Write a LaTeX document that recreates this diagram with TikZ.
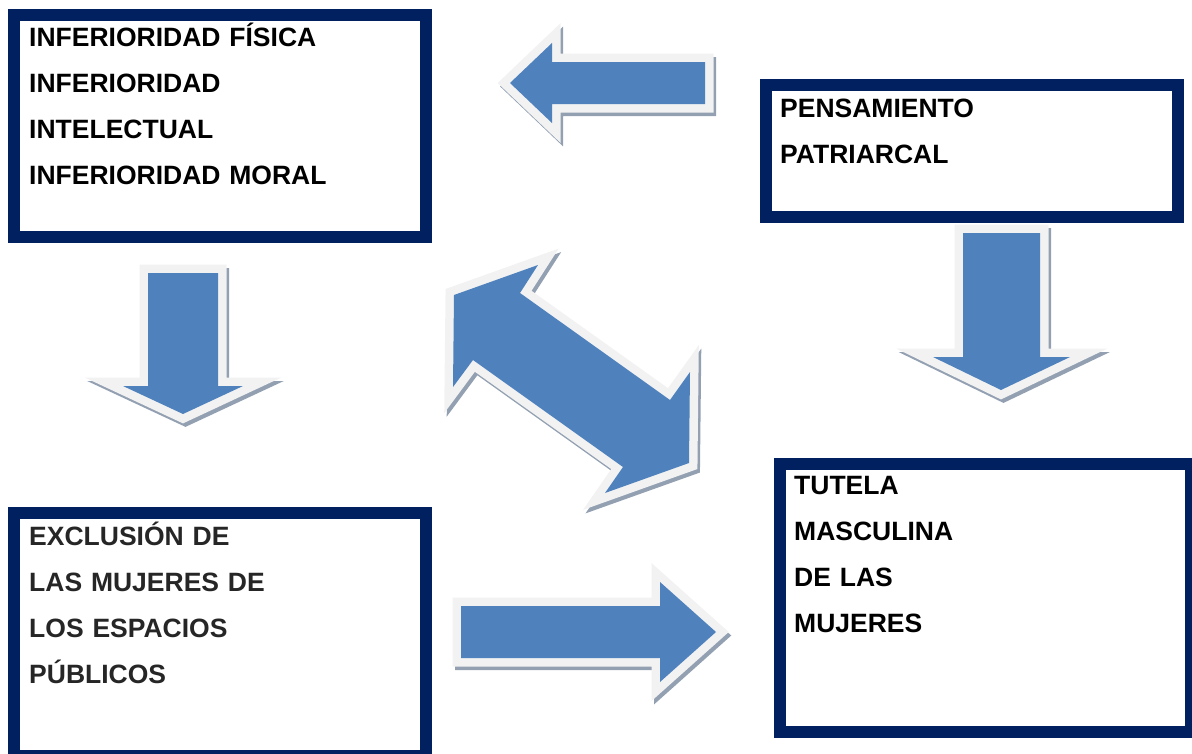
\documentclass[tikz,border=0pt]{standalone}
\usepackage{fontspec}
\setmainfont{Liberation Sans}
\definecolor{framenavy}{HTML}{002060}
\definecolor{arrowblue}{HTML}{4F81BD}
\definecolor{arrowrim}{HTML}{F2F2F2}
\definecolor{arrowshadow}{RGB}{146,160,178}
\definecolor{greytext}{HTML}{262626}

\begin{document}
\begin{tikzpicture}[x=1pt, y=-1pt]
    \tikzstyle{frame}=[draw=framenavy, line width=12pt, fill=white, anchor=north west, inner sep=0pt, outer sep=0pt]
    \tikzstyle{box text}=[anchor=base west, inner sep=0pt, text width=380pt, align=left, font=\fontsize{26.5}{46}\selectfont\bfseries]
    \tikzstyle{block arrow}=[fill=arrowblue, line join=miter,
        preaction={draw=arrowshadow, fill=arrowshadow, line width=17pt, line join=miter, transform canvas={xshift=2.5pt, yshift=-3.5pt}},
        preaction={draw=arrowrim, line width=17pt, line join=miter}]

    \useasboundingbox (0,0) rectangle (1192,753);

    % Draw the four boxes
    \node[frame, minimum width=412pt, minimum height=222pt] (fisica) at (14,15) {};
    \node[frame, minimum width=412pt, minimum height=132pt] (patriarcal) at (766,85) {};
    \node[frame, minimum width=412pt, minimum height=243pt] (exclusion) at (14,513) {};
    \node[frame, minimum width=411pt, minimum height=268pt] (tutela) at (780,464) {};

    % Text inside the boxes
    \node[box text] (fisica-txt) at ([xshift=15pt, yshift=-31pt]fisica.north west)
        {INFERIORIDAD FÍSICA\\INFERIORIDAD\\INTELECTUAL\\INFERIORIDAD MORAL};
    \node[box text] (patriarcal-txt) at ([xshift=14pt, yshift=-32pt]patriarcal.north west)
        {PENSAMIENTO\\PATRIARCAL};
    \node[box text, text=greytext] (exclusion-txt) at ([xshift=15pt, yshift=-32pt]exclusion.north west)
        {EXCLUSIÓN DE\\LAS MUJERES DE\\LOS ESPACIOS\\PÚBLICOS};
    \node[box text] (tutela-txt) at ([xshift=14pt, yshift=-30pt]tutela.north west)
        {TUTELA\\MASCULINA\\DE LAS\\MUJERES};

    % Block arrows
    \path[block arrow] (510,83) -- (552,43) -- (552,62) -- (705,62) -- (705,104) -- (552,104) -- (552,123) -- cycle;
    \path[block arrow] (148,273) -- (218,273) -- (218,386) -- (243,386) -- (183,414) -- (123,386) -- (148,386) -- cycle;
    \path[block arrow] (963,233) -- (1040,233) -- (1040,357) -- (1070,357) -- (1001,390) -- (933,357) -- (963,357) -- cycle;
    \path[block arrow] (461,606) -- (660,606) -- (660,582) -- (716,632) -- (660,682) -- (660,658) -- (461,658) -- cycle;
    % double arrow in the middle
    \path[block arrow] (454,295) -- (538,265) -- (520,293) -- (670,400) -- (690,372) -- (689,463)
        -- (605,493) -- (623,467) -- (473,360) -- (453,387) -- cycle;
\end{tikzpicture}
\end{document}
